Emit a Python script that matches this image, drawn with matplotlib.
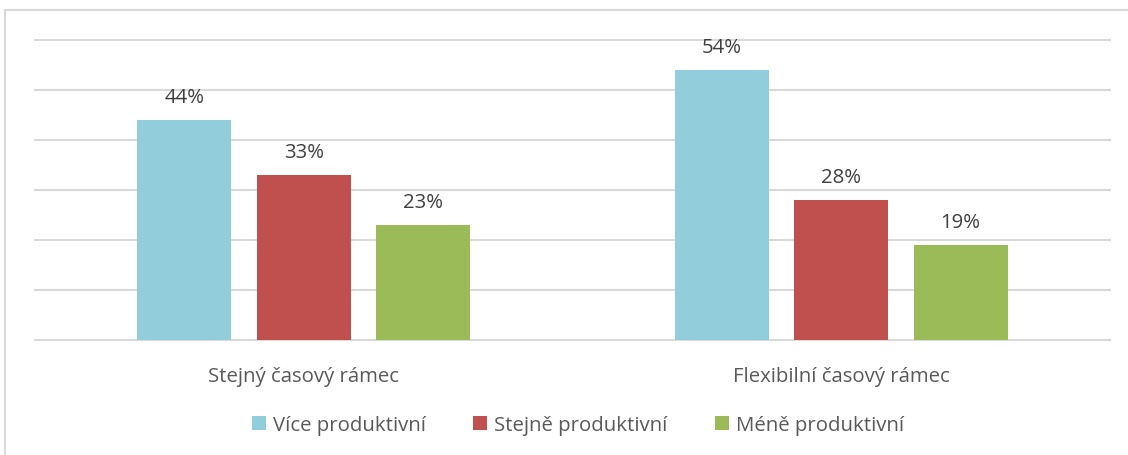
import matplotlib
matplotlib.use("Agg")
import matplotlib.pyplot as plt
from matplotlib.patches import Rectangle
import numpy as np

categories = ["Stejný časový rámec", "Flexibilní časový rámec"]
series_names = ["Více produktivní", "Stejně produktivní", "Méně produktivní"]
vice = [44, 54]
stejne = [33, 28]
mene = [23, 19]
colors = ["#92CDDC", "#C0504D", "#9BBB59"]

plt.rcParams['font.family'] = ['Open Sans', 'DejaVu Sans']
W, H = 1128, 456
fig = plt.figure(figsize=(W/100, H/100), dpi=100)
fig.patch.set_facecolor("white")
# outer border
fig.add_artist(Rectangle((5/W, -0.05), 1.2, (H-11)/H + 0.05, transform=fig.transFigure,
                         fill=False, edgecolor="#D9D9D9", linewidth=1.5))

ax = fig.add_axes([35/W, 1-341/H, (1110-35)/W, 300/H])
x = np.arange(len(categories))
bw = 0.175
step = 0.222
text_color = "#595959"
fs = 14.7
for i, (vals, c) in enumerate(zip([vice, stejne, mene], colors)):
    pos = x + (i-1)*step
    ax.bar(pos, vals, width=bw, color=c, label=series_names[i], zorder=3)
    for p, v in zip(pos, vals):
        ax.text(p, v + 2.6, f"{v}%", ha="center", va="bottom", fontsize=fs, color="#404040")

ax.set_xlim(-0.5, 1.5)
ax.set_ylim(0, 60)
ax.set_yticks(np.arange(0, 61, 10))
ax.yaxis.grid(True, color="#D9D9D9", linewidth=1.5, zorder=0)
for gl in ax.get_ygridlines():
    gl.set_clip_on(False)
ax.tick_params(axis="y", left=False, labelleft=False)
ax.tick_params(axis="x", bottom=False, labelsize=fs, labelcolor=text_color, pad=15)
ax.set_xticks(x)
ax.set_xticklabels(categories)
for s in ax.spines.values():
    s.set_visible(False)
ax.set_facecolor("none")

leg = fig.legend(loc="center", bbox_to_anchor=(578/W, 1-426/H), ncol=3, frameon=False,
                 fontsize=fs, handlelength=0.7, handleheight=0.7, handletextpad=0.35,
                 columnspacing=2.3)
for t in leg.get_texts():
    t.set_color(text_color)

fig.savefig("out.png", dpi=100, facecolor="white")
